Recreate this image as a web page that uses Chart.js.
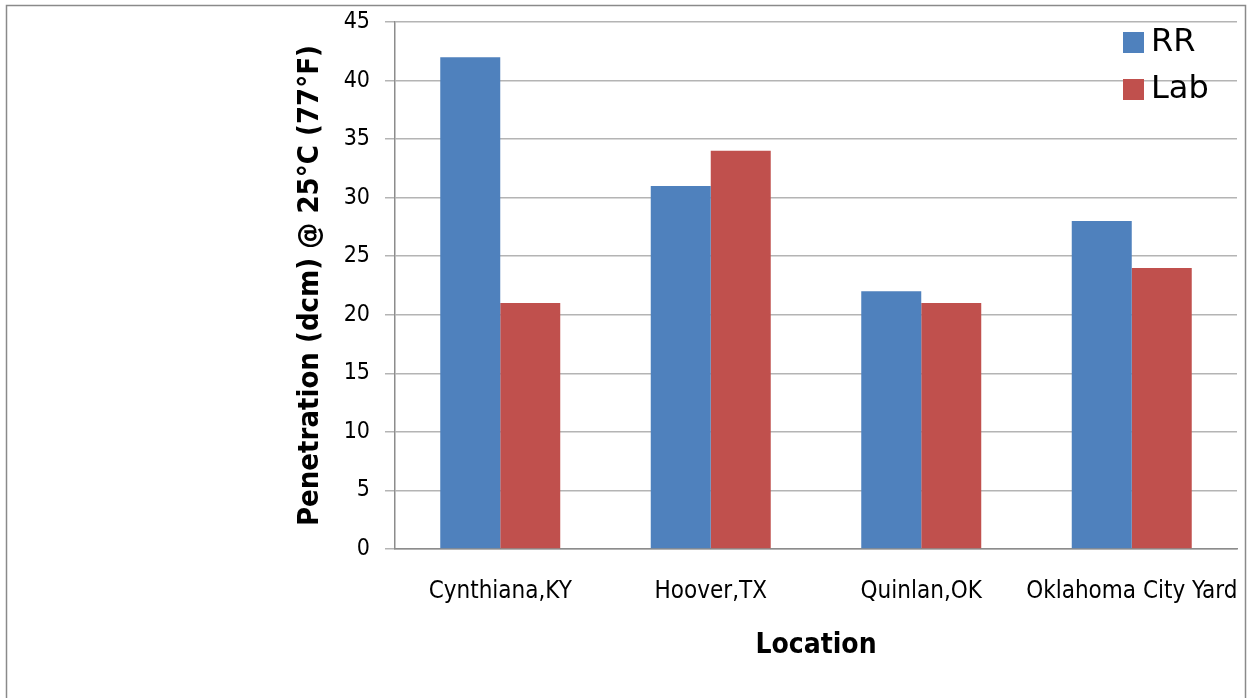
<!DOCTYPE html>
<html lang="en">
<head>
    <meta charset="UTF-8">
    <title>Penetration by location</title>
    <script src="https://cdn.jsdelivr.net/npm/chart.js"></script>
    <style>
        html, body { margin: 0; padding: 0; background: #fff; }
        #wrap { width: 1250px; height: 698px; position: relative; }
    </style>
</head>
<body>
<div id="wrap"><canvas id="chart" width="1250" height="698"></canvas></div>
<script>
    // données
    const locations = ['Cynthiana,KY', 'Hoover,TX', 'Quinlan,OK', 'Oklahoma City Yard'];
    const rrValues = [42, 31, 22, 28];
    const labValues = [21, 34, 21, 24];
    const yTicks = [0, 5, 10, 15, 20, 25, 30, 35, 40, 45];

    const FONT = "'DejaVu Sans Condensed', 'DejaVu Sans', sans-serif";

    // cadre gris autour de l'image + légende dessinée à la main (en haut à droite)
    const framePlugin = {
        id: 'frame',
        beforeDraw(chart) {
            const c = chart.ctx;
            c.save();
            c.strokeStyle = '#8a8a8a';
            c.lineWidth = 1.5;
            c.strokeRect(6.5, 5.5, 1239, 710);
            c.restore();
        },
        afterDraw(chart) {
            const c = chart.ctx;
            c.save();
            c.font = "32px 'DejaVu Sans', sans-serif";
            c.textBaseline = 'middle';
            chart.data.datasets.forEach((ds, i) => {
                const y = 32 + i * 47;
                c.fillStyle = ds.backgroundColor;
                c.fillRect(1123, y, 21, 21);
                c.fillStyle = '#000';
                c.fillText(ds.label, 1151, y + 11);
            });
            c.restore();
        }
    };

    new Chart(document.getElementById('chart'), {
        type: 'bar',
        data: {
            labels: locations,
            datasets: [
                { label: 'RR', data: rrValues, backgroundColor: '#4F81BD' },
                { label: 'Lab', data: labValues, backgroundColor: '#C0504D' }
            ]
        },
        options: {
            responsive: false,
            animation: false,
            devicePixelRatio: 1,
            categoryPercentage: 0.57,
            barPercentage: 1,
            layout: { padding: { left: 290, right: 13, top: 22, bottom: 20 } },
            plugins: { legend: { display: false }, tooltip: { enabled: false } },
            scales: {
                x: {
                    grid: { display: false },
                    border: { color: '#8c8c8c', width: 1.5 },
                    ticks: { color: '#000', font: { family: FONT, size: 24 }, padding: 20,
                             maxRotation: 0, autoSkip: false },
                    title: { display: true, text: 'Location', color: '#000',
                             font: { family: FONT, size: 28, weight: 'bold' }, padding: { bottom: 15 } },
                    // taille fixe, sans marge ajoutée pour les étiquettes
                    afterFit: s => { s.height = 129; s.paddingLeft = 0; s.paddingRight = 0; }
                },
                y: {
                    min: 0, max: 45,
                    afterBuildTicks: s => { s.ticks = yTicks.map(v => ({ value: v })); },
                    grid: { color: '#b4b4b4', lineWidth: 1.5, tickLength: 10 },
                    border: { color: '#8c8c8c', width: 1.5 },
                    ticks: { color: '#000', font: { family: FONT, size: 23 }, padding: 15 },
                    title: { display: true, text: 'Penetration (dcm) @ 25°C (77°F)', color: '#000',
                             font: { family: FONT, size: 29, weight: 'bold' }, padding: { top: 3 } },
                    afterFit: s => { s.width = 105; s.paddingTop = 0; s.paddingBottom = 0; }
                }
            }
        },
        plugins: [framePlugin]
    });
</script>
</body>
</html>
